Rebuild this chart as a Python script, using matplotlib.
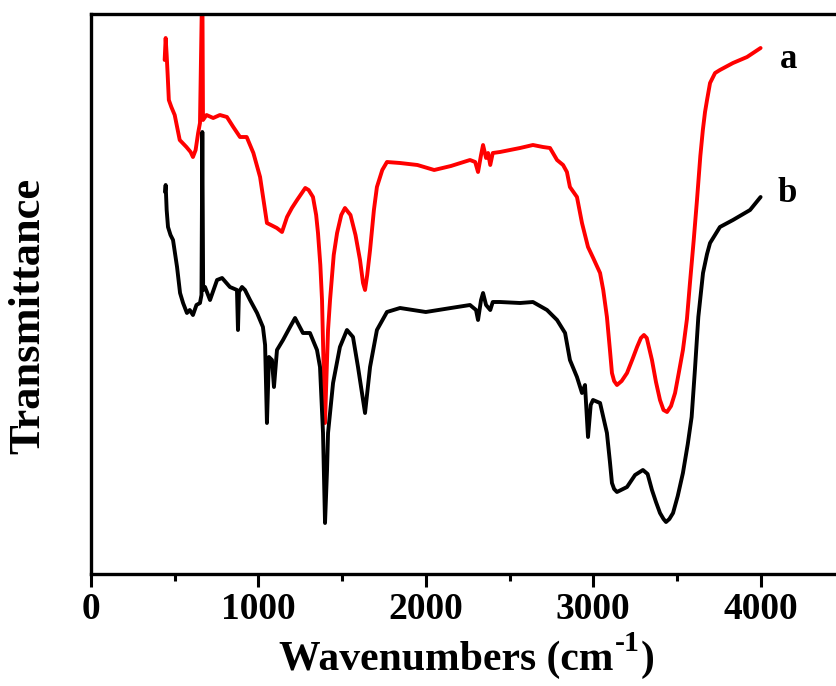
import matplotlib
matplotlib.use("Agg")
import matplotlib.pyplot as plt
from matplotlib.ticker import MultipleLocator

# Sample a (red)
wn_a = [440, 446, 452, 458, 465, 480, 500, 530, 570, 595, 609, 625, 640, 651, 665, 669, 690, 730, 770, 812,
        850, 890, 930, 970, 1010, 1035, 1051, 1075, 1110, 1141, 1171, 1200, 1231, 1280, 1300, 1326, 1345,
        1356, 1370, 1380, 1390, 1398, 1406, 1416, 1428, 1450, 1470, 1495, 1517, 1550, 1580, 1607, 1625,
        1637, 1650, 1667, 1690, 1708, 1740, 1768, 1846, 1950, 2050, 2150, 2264, 2295, 2312, 2330, 2342,
        2360, 2372, 2385, 2400, 2443, 2563, 2640, 2700, 2742, 2784, 2820, 2843, 2861, 2903, 2933, 2969,
        3000, 3041, 3060, 3082, 3100, 3112, 3125, 3142, 3170, 3202, 3235, 3262, 3285, 3303, 3320, 3351,
        3375, 3399, 3420, 3441, 3465, 3489, 3510, 3536, 3560, 3578, 3600, 3620, 3640, 3655, 3668, 3680,
        3698, 3728, 3757, 3835, 3919, 4000]
t_a = [514, 536, 519, 499, 474, 467, 459, 434, 427, 422, 417, 424, 441, 451, 600, 454, 459, 456, 459, 457,
       447, 437, 437, 421, 397, 369, 351, 349, 346, 342, 357, 366, 374, 386, 384, 377, 359,
       341, 309, 274, 204, 151, 194, 244, 274, 319, 341, 359, 366, 359, 339, 314, 291,
       284, 299, 324, 364, 387, 404, 412, 411, 409, 404, 408, 414, 412, 402, 419, 429,
       416, 421, 409, 421, 422, 426, 429, 427, 426, 414, 409, 402, 387, 377, 351, 327,
       316, 301, 284, 257, 224, 201, 193, 189, 193, 201, 215, 227, 236, 239, 236, 214,
       192, 174, 164, 162, 168, 181, 200, 224, 255, 291, 333, 374, 418, 444, 462, 474,
       491, 501, 504, 511, 517, 526]

# Sample b (black)
wn_b = [442, 446, 452, 460, 475, 490, 514, 532, 550, 573, 590, 609, 630, 651, 660, 665, 670, 681, 711, 753,
        783, 830, 872, 878, 884, 902, 920, 950, 992, 1027, 1040, 1051, 1063, 1081, 1093, 1111, 1147,
        1189, 1219, 1266, 1308, 1350, 1368, 1386, 1398, 1410, 1416, 1446, 1487, 1529, 1565, 1595, 1637,
        1667, 1708, 1768, 1846, 2000, 2150, 2264, 2300, 2312, 2330, 2342, 2360, 2385, 2400, 2443, 2563,
        2640, 2724, 2784, 2832, 2861, 2903, 2933, 2951, 2969, 2985, 2999, 3041, 3082, 3100, 3112, 3125,
        3142, 3202, 3250, 3297, 3325, 3351, 3375, 3399, 3420, 3435, 3455, 3477, 3505, 3536, 3565, 3588,
        3608, 3628, 3656, 3680, 3698, 3757, 3835, 3937, 4000]
t_b = [382, 389, 364, 347, 339, 334, 307, 281, 271, 261, 264, 259, 269, 271, 279, 442, 284, 287, 274, 294,
       296, 287, 284, 244, 282, 287, 284, 274, 261, 247, 229, 151, 217, 214, 187, 224, 234,
       247, 256, 241, 241, 224, 207, 141, 51, 104, 141, 191, 227, 244, 237, 207, 161,
       207, 244, 262, 266, 262, 266, 269, 264, 254, 274, 281, 269, 264, 272, 272, 271,
       272, 264, 254, 241, 214, 197, 181, 189, 137, 169, 174, 171, 141, 112, 91, 85,
       82, 87, 99, 104, 100, 84, 72, 61, 55, 52, 55, 61, 78, 101, 130, 157,
       205, 257, 301, 320, 331, 347, 354, 364, 377]

labels = ["a", "b"]
label_pos_wn = [4165, 4160]
label_pos_t = [514, 381]

plt.rcParams['font.family'] = ['Liberation Serif', 'DejaVu Serif']
plt.rcParams['font.weight'] = 'bold'

W, H = 836, 686
fig = plt.figure(figsize=(W / 100, H / 100), dpi=100)
ax = fig.add_axes([91/W, 112/H, 4500*0.1674/W, 560/H])

ax.plot(wn_a, t_a, color='#ff0000', lw=2.8, solid_joinstyle='round', solid_capstyle='round')
ax.plot(wn_b, t_b, color='black', lw=2.8, solid_joinstyle='round', solid_capstyle='round')

for lab, xw, yt in zip(labels, label_pos_wn, label_pos_t):
    ax.text(xw, yt, lab, fontsize=25, fontweight='bold', ha='center', va='center')

ax.set_xlim(0, 4500)
ax.set_ylim(0, 560)
ax.set_yticks([])
ax.xaxis.set_major_locator(MultipleLocator(1000))
ax.xaxis.set_minor_locator(MultipleLocator(500))
ax.tick_params(axis='x', which='major', direction='out', length=9, width=2.2, labelsize=27, pad=4)
ax.tick_params(axis='x', which='minor', direction='out', length=5, width=2.2)
for lab in ax.get_xticklabels():
    lab.set_fontweight('bold')
for sp in ax.spines.values():
    sp.set_linewidth(2.4)

# Y label
fig.text(28/W, 1 - 316/H, 'Transmittance', rotation=90, fontsize=32, fontweight='bold',
         ha='center', va='center')

# X label with hyphen superscript, built from pieces
renderer = fig.canvas.get_renderer()
fs = 30
base_y = 1 - 670/H
main = fig.text(0, base_y, 'Wavenumbers (cm', fontsize=fs, fontweight='bold', ha='left', va='baseline')
sup = fig.text(0, base_y, '-1', fontsize=fs * 0.72, fontweight='bold', ha='left', va='baseline')
close = fig.text(0, base_y, ')', fontsize=fs, fontweight='bold', ha='left', va='baseline')
w_main = main.get_window_extent(renderer).width
w_sup = sup.get_window_extent(renderer).width
w_close = close.get_window_extent(renderer).width
total = w_main + w_sup + 2 + w_close
x0 = 467 - total / 2
main.set_x(x0 / W)
sup.set_x((x0 + w_main + 1) / W)
sup.set_y(base_y + 19 / H)
close.set_x((x0 + w_main + w_sup + 2) / W)

fig.savefig('out.png', dpi=100)
